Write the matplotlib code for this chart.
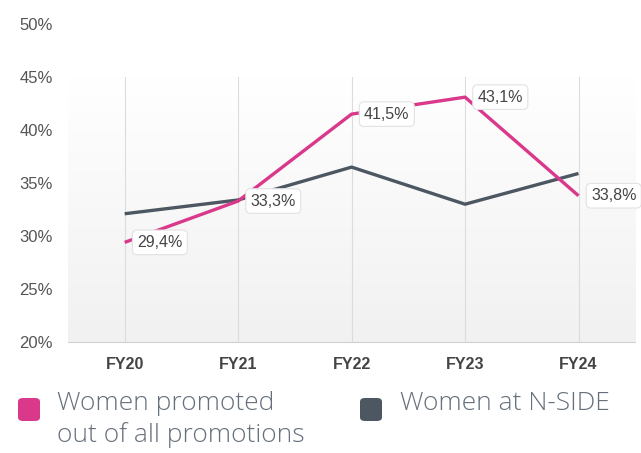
import matplotlib.pyplot as plt
import numpy as np
from matplotlib.patches import FancyBboxPatch

years = ["FY20", "FY21", "FY22", "FY23", "FY24"]
promoted = [29.4, 33.3, 41.5, 43.1, 33.8]
women_total = [32.1, 33.4, 36.5, 33.0, 35.9]
promoted_labels = ["29,4%", "33,3%", "41,5%", "43,1%", "33,8%"]
y_ticks = [20, 25, 30, 35, 40, 45, 50]

PINK = "#d9388b"
SLATE = "#4d5762"

fig = plt.figure(figsize=(6.41, 4.53), dpi=100)
ax = fig.add_axes([0.106, 0.245, 0.885, 0.702])

x = np.arange(len(years))
ax.set_xlim(-0.5, 4.5)
ax.set_ylim(20, 50)

# soft vertical gradient background
grad = np.linspace(1, 0, 256).reshape(-1, 1)
ax.imshow(grad, extent=(-0.5, 4.5, 20, 45), aspect="auto",
          cmap=plt.matplotlib.colors.LinearSegmentedColormap.from_list("bg", ["#f1f1f1", "#ffffff"]),
          zorder=0)

for xi in x:
    ax.axvline(xi, ymin=0, ymax=25 / 30, color="#dcdcdc", lw=0.8, zorder=1)

ax.plot(x, women_total, color=SLATE, lw=2.4, zorder=3, solid_capstyle="butt")
ax.plot(x, promoted, color=PINK, lw=2.4, zorder=4, solid_capstyle="butt")

for xi, yi, lab in zip(x, promoted, promoted_labels):
    ax.annotate(lab, (xi, yi), xytext=(9, 0), textcoords="offset points",
                ha="left", va="center", fontsize=11.5, color="#444444",
                family="Liberation Sans", zorder=5,
                bbox=dict(boxstyle="round,pad=0.3,rounding_size=0.3",
                          fc="white", ec="#e2e2e2", lw=0.8))

ax.set_xticks(x)
ax.set_xticklabels(years, fontweight="bold", fontsize=11.5, color="#444444",
                   family="Liberation Sans")
ax.set_yticks(y_ticks)
ax.set_yticklabels([f"{t}%" for t in y_ticks], fontsize=12, color="#555555",
                   family="Liberation Sans")
ax.tick_params(axis="x", length=0, pad=11)
ax.tick_params(axis="y", length=0, pad=11)

for s in ["top", "right", "left"]:
    ax.spines[s].set_visible(False)
ax.spines["bottom"].set_color("#d0d0d0")
ax.spines["bottom"].set_linewidth(0.8)
ax.set_facecolor("white")

# legend
legend_items = [(18, PINK, "Women promoted\nout of all promotions", 57),
                (360, SLATE, "Women at N-SIDE", 400)]
for px, col, txt, tx in legend_items:
    fig.patches.append(FancyBboxPatch((px / 641, 1 - 421 / 453), 22 / 641, 23 / 453,
                                      boxstyle="round,pad=0,rounding_size=0.008",
                                      transform=fig.transFigure, fc=col, ec="none"))
    fig.text(tx / 641, 1 - 391 / 453, txt, ha="left", va="top", fontsize=19,
             color="#66707c", family="Open Sans", fontweight="light", linespacing=1.3)

fig.savefig("out.png", dpi=100)
